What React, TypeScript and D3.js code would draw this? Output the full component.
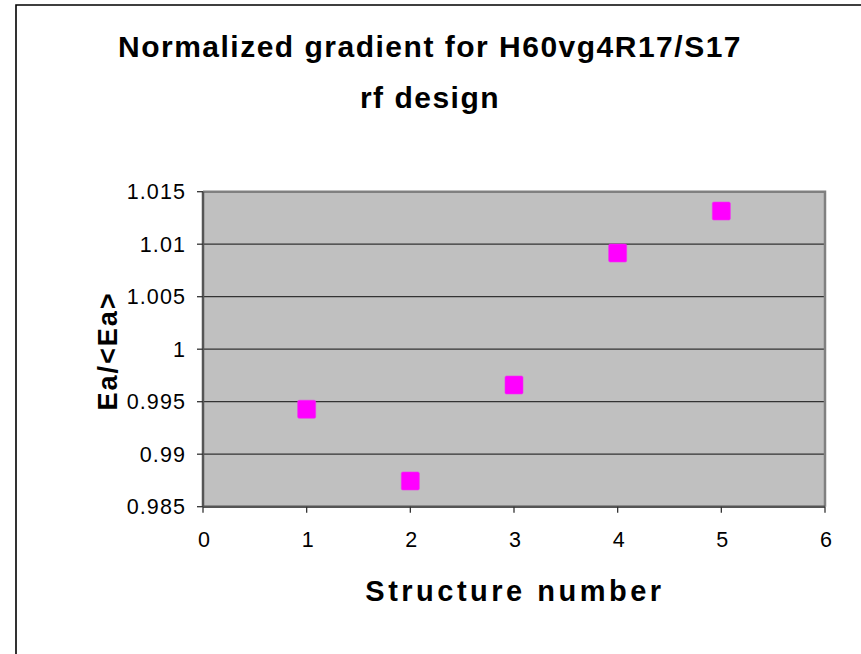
import React from "react";
import * as d3 from "d3";

const structureNumbers = [1, 2, 3, 4, 5];
const normalizedGradient = [0.99428, 0.98745, 0.99659, 1.00916, 1.01316];
const yTickValues = [0.985, 0.99, 0.995, 1, 1.005, 1.01, 1.015];
const yTickLabels = ["0.985", "0.99", "0.995", "1", "1.005", "1.01", "1.015"];
const xTickValues = [0, 1, 2, 3, 4, 5, 6];
const titleLines = ["Normalized gradient for H60vg4R17/S17", "rf design"];
const xTitle = "Structure number";
const yTitle = "Ea/<Ea>";

const W = 861;
const H = 654;
const plot = { left: 203, right: 825, top: 191.7, bottom: 506.7 };
const FONT = "Arial, 'Liberation Sans', Helvetica, sans-serif";

export default function App() {
  const x = d3.scaleLinear().domain([0, 6]).range([plot.left, plot.right]);
  const y = d3.scaleLinear().domain([0.985, 1.015]).range([plot.bottom, plot.top]);
  const ms = 18;

  return (
    <svg
      width={W}
      height={H}
      viewBox={`0 0 ${W} ${H}`}
      style={{ position: "absolute", left: 0, top: 0, background: "#fff" }}
    >
      <rect x={0} y={0} width={W} height={H} fill="#fff" />
      {/* outer chart border */}
      <path d={`M16,${H} L16,5 L${W},5`} fill="none" stroke="#000" strokeWidth={1.6} />

      {/* title */}
      {titleLines.map((t, i) => (
        <text
          key={i}
          x={430}
          y={56.5 + i * 51}
          textAnchor="middle"
          fontFamily={FONT}
          fontWeight="bold"
          fontSize={30}
          letterSpacing={1.5}
          fill="#000"
        >
          {t}
        </text>
      ))}

      {/* plot background */}
      <rect
        x={plot.left}
        y={plot.top}
        width={plot.right - plot.left}
        height={plot.bottom - plot.top}
        fill="#C0C0C0"
      />
      {/* gridlines */}
      {yTickValues.slice(1, -1).map((v) => (
        <line
          key={v}
          x1={plot.left}
          x2={plot.right}
          y1={y(v)}
          y2={y(v)}
          stroke="#333"
          strokeWidth={1.3}
        />
      ))}
      {/* top & right border */}
      <path
        d={`M${plot.left},${plot.top} L${plot.right},${plot.top} L${plot.right},${plot.bottom}`}
        fill="none"
        stroke="#808080"
        strokeWidth={2.5}
      />
      {/* axes */}
      <line x1={plot.left} x2={plot.left} y1={plot.top} y2={plot.bottom} stroke="#555" strokeWidth={2.5} />
      <line x1={plot.left} x2={plot.right} y1={plot.bottom} y2={plot.bottom} stroke="#555" strokeWidth={2.5} />

      {/* y ticks */}
      {yTickValues.map((v, i) => (
        <g key={v}>
          <line x1={plot.left - 6} x2={plot.left} y1={y(v)} y2={y(v)} stroke="#333" strokeWidth={1.3} />
          <text
            x={186}
            y={y(v) + 7.5}
            textAnchor="end"
            fontFamily={FONT}
            fontSize={21.5}
            letterSpacing={1.1}
            fill="#000"
          >
            {yTickLabels[i]}
          </text>
        </g>
      ))}

      {/* x ticks */}
      {xTickValues.map((v) => (
        <g key={v}>
          <line x1={x(v)} x2={x(v)} y1={plot.bottom} y2={plot.bottom + 6} stroke="#333" strokeWidth={1.3} />
          <text
            x={x(v) + 1}
            y={547}
            textAnchor="middle"
            fontFamily={FONT}
            fontSize={21.5}
            fill="#000"
          >
            {v}
          </text>
        </g>
      ))}

      {/* markers */}
      {structureNumbers.map((s, i) => (
        <rect
          key={s}
          x={x(s) - ms / 2}
          y={y(normalizedGradient[i]) - ms / 2}
          width={ms}
          height={ms}
          rx={1.5}
          fill="#FF00FF"
          stroke="#F030F0"
          strokeWidth={0.6}
        />
      ))}

      {/* axis titles */}
      <text
        x={515}
        y={600.5}
        textAnchor="middle"
        fontFamily={FONT}
        fontWeight="bold"
        fontSize={29}
        letterSpacing={3.5}
        fill="#000"
      >
        {xTitle}
      </text>
      <text
        transform={`translate(117,351) rotate(-90)`}
        textAnchor="middle"
        fontFamily={FONT}
        fontWeight="bold"
        fontSize={27}
        letterSpacing={2}
        fill="#000"
      >
        {yTitle}
      </text>
    </svg>
  );
}
